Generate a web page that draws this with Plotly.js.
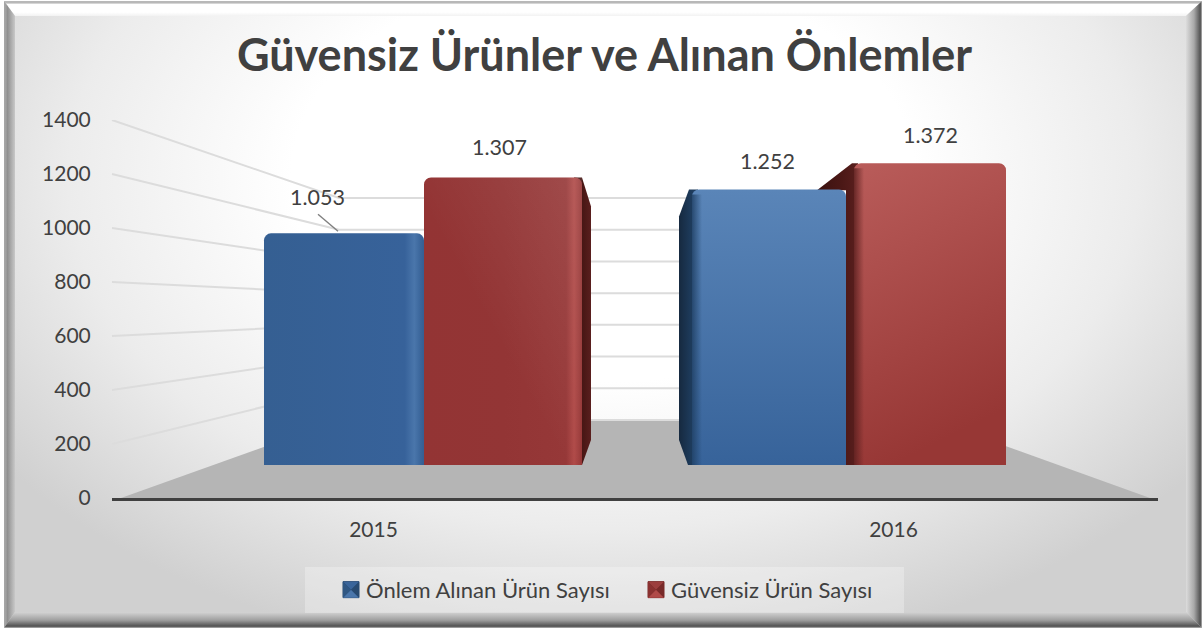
<!DOCTYPE html>
<html><head><meta charset="utf-8">
<script src="https://cdn.plot.ly/plotly-3.0.1.min.js"></script>
<style>
html,body{margin:0;padding:0;background:#fff;width:1203px;height:630px;overflow:hidden}
#box{position:absolute;left:4px;top:1px;width:1198px;height:627px;background:radial-gradient(ellipse 62% 78% at 50% 28%,#fff 0%,#fff 42%,#ececec 72%,#d0d0d0 100%)}
.f{position:absolute}
#chart{position:absolute;left:0;top:0;width:1203px;height:630px}
</style></head><body>
<div id="box"></div>
<div class="f" style="left:4px;top:1px;width:1198px;height:15px;background:linear-gradient(#b8b8b8 0,#b8b8b8 13%,#fff 22%,#fff 75%,#f2f2f2 100%);clip-path:polygon(0 0,100% 0,calc(100% - 16px) 100%,11px 100%)"></div>
<div class="f" style="left:4px;top:1px;width:11px;height:627px;background:linear-gradient(90deg,#a8a8a8 0,#a0a0a0 20%,#8f8f8f 30%,#c8c8c8 100%);clip-path:polygon(0 0,100% 15px,100% calc(100% - 16px),0 100%)"></div>
<div class="f" style="left:1186px;top:1px;width:16px;height:627px;background:linear-gradient(90deg,#dcdcdc 0,#a8a8a8 50%,#5c5c5c 85%,#5c5c5c 92%,#c0c0c0 100%);clip-path:polygon(100% 0,0 15px,0 calc(100% - 16px),100% 100%)"></div>
<div class="f" style="left:4px;top:612px;width:1198px;height:16px;background:linear-gradient(#d4d4d4 0,#a0a0a0 50%,#585858 85%,#585858 90%,#b8b8b8 100%);clip-path:polygon(11px 0,calc(100% - 16px) 0,100% 100%,0 100%)"></div>
<div id="chart"></div>
<script>
const years = ['2015', '2016'];
const seriesNames = ['Önlem Alınan Ürün Sayısı', 'Güvensiz Ürün Sayısı'];
const onlemAlinan = [1053, 1252];
const guvensiz = [1307, 1372];
const yTicks = [0, 200, 400, 600, 800, 1000, 1200, 1400];
const titleText = 'Güvensiz Ürünler ve Alınan Önlemler';

const FONT = 'Lato, sans-serif', INK = '#404040';
const W = 1046, H = 378, L = 112, T = 120;
const pxX = 422, pxY = 0.22;              // scale of the bar plane
const dx = p => p / pxX, dy = p => p / pxY;
const fmt = v => (v / 1000).toFixed(3);
const paperX = px => (px - L) / W;
const y1Of = py => (T + H - py) * 1400 / H;
const wallY = v => y1Of(420 - v * 222 / 1400);

const shapes = [];
// legend band
shapes.push({type:'rect',xref:'paper',yref:'paper',x0:paperX(305),x1:paperX(904),y0:-0.1825,y1:-0.304,
  fillcolor:'rgba(255,255,255,0.28)',line:{width:0},layer:'below'});
// floor
shapes.push({type:'path',xref:'paper',yref:'y',layer:'below',fillcolor:'#b5b5b5',line:{width:0},
  path:`M ${paperX(121)} 0 L ${paperX(339)} ${wallY(0)} L ${paperX(933)} ${wallY(0)} L ${paperX(1150)} 0 Z`});
// wall grid
yTicks.slice(1).forEach(v=>shapes.push({type:'path',xref:'paper',yref:'y',layer:'below',
  line:{color:'#dcdcdc',width:2},
  path:`M 0 ${v} L ${paperX(339)} ${wallY(v)} L ${paperX(933)} ${wallY(v)}`}));
shapes.push({type:'line',xref:'paper',yref:'y',layer:'below',line:{color:'#dcdcdc',width:2},
  x0:paperX(339),x1:paperX(933),y0:wallY(0),y1:wallY(0)});
const baseCount = shapes.length;
// side faces, anchored on the data values
// 2015 red: right face
shapes.push({type:'path',xref:'x2',yref:'y2',layer:'below',line:{width:0},fillcolor:'#5a1f1e',
  path:`M ${dx(150)} ${guvensiz[0]} L ${dx(158)} ${guvensiz[0]} L ${dx(167)} ${guvensiz[0]-dy(29)} L ${dx(167)} ${dy(25)} L ${dx(158)} 0 L ${dx(150)} 0 Z`});
// 2016 blue: left face
shapes.push({type:'path',xref:'x2',yref:'y2',layer:'below',line:{width:0},fillcolor:'#1a3048',
  path:`M ${1-dx(148)} ${onlemAlinan[1]} L ${1-dx(157)} ${onlemAlinan[1]} L ${1-dx(167)} ${onlemAlinan[1]-dy(27)} L ${1-dx(167)} ${dy(25)} L ${1-dx(158)} 0 L ${1-dx(148)} 0 Z`});
// 2016 red: left face
shapes.push({type:'path',xref:'x2',yref:'y2',layer:'below',line:{width:0},fillcolor:'#3f1512',
  path:`M ${1+dx(6)} ${guvensiz[1]} L ${1+dx(-29)} ${guvensiz[1]-dy(27)} L ${1} ${guvensiz[1]-dy(27)} L ${1} 0 L ${1+dx(12)} 0 L ${1+dx(12)} ${guvensiz[1]} Z`});
// soft shading on the front faces
shapes.push({type:'rect',xref:'x2',yref:'y2',layer:'above',line:{width:0},fillcolor:'#1a3048',
  x0:1-dx(154),x1:1-dx(144),y0:0,y1:onlemAlinan[1]-dy(5)});
shapes.push({type:'rect',xref:'x2',yref:'y2',layer:'above',line:{width:0},fillcolor:'#3f1512',
  x0:1+dx(8),x1:1+dx(18),y0:0,y1:guvensiz[1]-dy(5)});
shapes.push({type:'rect',xref:'x2',yref:'y2',layer:'above',line:{width:0},fillcolor:'#ffffff',
  x0:dx(0),x1:dx(158),y0:0,y1:guvensiz[0]});
// leader line for the first label
shapes.push({type:'line',xref:'x2',yref:'y2',layer:'above',line:{color:'#7f7f7f',width:1.4},
  x0:dx(-106),y0:onlemAlinan[0]+dy(19),x1:dx(-86),y1:onlemAlinan[0]+dy(2)});

const labelAt = (x,v,shift)=>({xref:'x2',yref:'y2',x:x,y:v,yshift:shift,text:fmt(v),showarrow:false,
  yanchor:'middle',xanchor:'center',font:{family:FONT,size:21.5,color:INK}});
const annotations = [
  labelAt(dx(-107),onlemAlinan[0],36),
  labelAt(dx(75),guvensiz[0],30),
  labelAt(1+dx(-79),onlemAlinan[1],29),
  labelAt(1+dx(84),guvensiz[1],28)
];

const data = [
  {type:'scatter',x:years,y:[0,0],xaxis:'x',yaxis:'y',mode:'lines',line:{width:0},showlegend:false,hoverinfo:'skip'},
  {type:'bar',name:seriesNames[0],x:years,y:onlemAlinan,xaxis:'x2',yaxis:'y2',
    width:[dx(160),dx(154)],offset:[dx(-160),dx(-154)],marker:{color:'#355f92',line:{width:0}},hoverinfo:'skip'},
  {type:'bar',name:seriesNames[1],x:years,y:guvensiz,xaxis:'x2',yaxis:'y2',
    width:[dx(158),dx(152)],offset:[0,dx(8)],marker:{color:'#933434',line:{width:0}},hoverinfo:'skip'}
];
const layout = {
  width:1203,height:630,margin:{l:L,r:1203-L-W,t:T,b:630-T-H,pad:0},autosize:false,
  paper_bgcolor:'rgba(0,0,0,0)',plot_bgcolor:'rgba(0,0,0,0)',
  font:{family:FONT,color:INK,size:21},
  title:{text:titleText,font:{family:FONT,size:45,color:INK,weight:700},x:604.5/1203,xref:'container',xanchor:'center',y:1-55/630,yanchor:'middle'},
  barmode:'overlay',barcornerradius:7,
  xaxis:{type:'category',categoryorder:'array',categoryarray:years,range:[-0.503,1.5087],showgrid:false,zeroline:false,
    showline:true,linecolor:'#404040',linewidth:3,ticks:'outside',ticklen:11,tickcolor:'rgba(0,0,0,0)',
    tickfont:{family:FONT,size:21,color:INK},fixedrange:true},
  yaxis:{range:[0,1400],tickmode:'array',tickvals:yTicks,showgrid:false,zeroline:false,showline:false,
    ticks:'outside',ticklen:16,tickcolor:'rgba(0,0,0,0)',tickfont:{family:FONT,size:21,color:INK},fixedrange:true},
  xaxis2:{type:'category',overlaying:'x',visible:false,range:[-(424-L)/pxX,1+(L+W-846)/pxX],fixedrange:true},
  yaxis2:{overlaying:'y',visible:false,range:[-(T+H-465)/pxY,(465-T)/pxY],fixedrange:true},
  legend:{orientation:'h',x:paperX(326),y:-0.243,xanchor:'left',yanchor:'middle',bgcolor:'rgba(0,0,0,0)',
    font:{family:FONT,size:22,color:INK},entrywidth:260,entrywidthmode:'pixels',itemclick:false,itemdoubleclick:false},
  shapes,annotations
};

Plotly.newPlot('chart',data,layout,{displayModeBar:false,staticPlot:true}).then(gd=>{
  const svg = gd.querySelector('.main-svg');
  const defs = svg.querySelector('defs');
  const NS='http://www.w3.org/2000/svg';
  const grad=(id,x1,y1,x2,y2,stops)=>{
    const g=document.createElementNS(NS,'linearGradient');
    g.setAttribute('id',id);g.setAttribute('x1',x1);g.setAttribute('y1',y1);g.setAttribute('x2',x2);g.setAttribute('y2',y2);
    stops.forEach(([o,c,a])=>{const s=document.createElementNS(NS,'stop');s.setAttribute('offset',o);s.setAttribute('stop-color',c);
      if(a!==undefined)s.setAttribute('stop-opacity',a);g.appendChild(s);});
    defs.appendChild(g);
  };
  grad('b15',0,0,1,0,[[0,'#355f92'],[.88,'#37629a'],[.94,'#4a76ab'],[.98,'#3a659a'],[1,'#355f92']]);
  grad('r15',0,0,1,0,[[0,'#933434'],[.5,'#933535'],[.9,'#963838'],[.95,'#b04a48'],[.98,'#a03f3e'],[1,'#933434']]);
  grad('b16',0,0,0,1,[[0,'#5a85b8'],[1,'#37639a']]);
  grad('r16',0,0,0.25,1,[[0,'#b95c5a'],[1,'#973735']]);
  grad('sb',0,0,1,0,[[0,'#16293f'],[.6,'#1d3a5a'],[1,'#1f3f63']]);
  grad('sr',0,0,1,0,[[0,'#3a1210'],[.6,'#4b1816'],[1,'#5a1f1e']]);
  grad('fb',0,0,1,0,[[0,'#1f3f63',0.85],[1,'#1f3f63',0]]);
  grad('fr',0,0,1,0,[[0,'#5a1f1e',0.85],[1,'#5a1f1e',0]]);
  grad('gl',0,1,1,0,[[0,'#ffffff',0],[.45,'#ffffff',0],[1,'#ffffff',0.1]]);
  const bars=gd.querySelectorAll('.barlayer .trace');
  const setFill=(p,id)=>{p.style.fill='url(#'+id+')';p.style.fillOpacity=1;};
  const bp=bars[0].querySelectorAll('.point path'), rp=bars[1].querySelectorAll('.point path');
  setFill(bp[0],'b15');setFill(bp[1],'b16');setFill(rp[0],'r15');setFill(rp[1],'r16');
  const shp=i=>gd.querySelector('.shapelayer path[data-index="'+i+'"]');
  setFill(shp(baseCount),'sr');setFill(shp(baseCount+1),'sb');setFill(shp(baseCount+2),'sr');
  setFill(shp(baseCount+3),'fb');setFill(shp(baseCount+4),'fr');setFill(shp(baseCount+5),'gl');
  // legend swatches with a bevel
  const faces=[['#4a76ab','#2f5783','#284a70','#3a659a','#1f3d60'],['#b04a48','#8a3130','#782a29','#9c3e3d','#5f2120']];
  gd.querySelectorAll('.legend .traces').forEach((t,i)=>{
    const p=t.querySelector('.legendpoints path');
    if(!p) return;
    const a=-3,b=13,c=5;
    p.setAttribute('d',`M${a},${-8}H${b}V8H${a}Z`);
    p.style.fill=faces[i][4];p.style.stroke=faces[i][2];p.style.strokeWidth='1px';p.style.fillOpacity=1;
    const tf=p.getAttribute('transform');
    const tri=(d,col)=>{const q=document.createElementNS(NS,'path');q.setAttribute('d',d);q.style.fill=col;if(tf)q.setAttribute('transform',tf);p.parentNode.appendChild(q);};
    tri(`M${a},-8L${c},0L${a},8Z`,faces[i][1]);
    tri(`M${b},-8L${c},0L${b},8Z`,faces[i][2]);
    tri(`M${a},-8H${b}L${c},0Z`,faces[i][3]);
    tri(`M${a},8H${b}L${c},0Z`,faces[i][0]);
  });
});
</script>
</body></html>
